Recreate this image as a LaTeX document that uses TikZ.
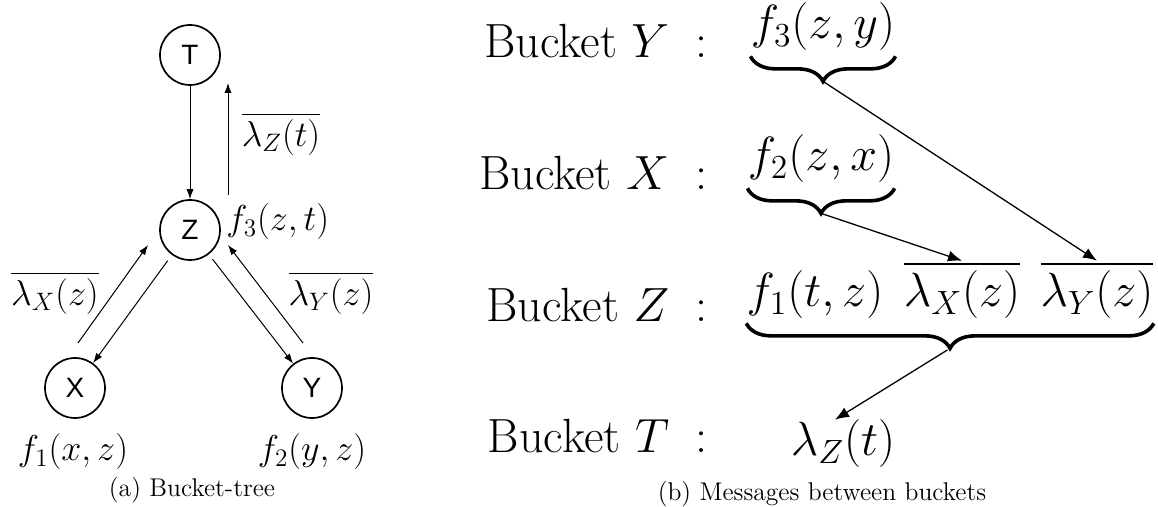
\documentclass[tikz,border=0pt]{standalone}
\usepackage{fix-cm}
\usepackage{amsmath}
\usepackage{fontspec}
\newfontfamily\nodefont{Liberation Sans}
\usepackage{tikz}
\usetikzlibrary{arrows.meta,calc,decorations.pathreplacing}

\begin{document}
\begin{tikzpicture}[
    x=0.5pt,
    y=-0.5pt,
    bnode/.style={
        circle, draw, line width=0.85pt,
        minimum size=30pt, inner sep=0pt,
        font=\nodefont\fontsize{14}{16}\selectfont
    },
    lbl/.style={inner sep=0pt, font=\fontsize{18}{22}\selectfont},
    msg/.style={inner sep=0pt, font=\fontsize{24}{29}\selectfont},
    captxt/.style={inner sep=0pt, font=\fontsize{12.8}{15}\selectfont},
    brc/.style={
        decorate, line width=1.8pt,
        decoration={brace, mirror, amplitude=12.5pt}
    },
    tarr/.style={-{Latex[length=5pt,width=3.6pt]}, line width=0.5pt},
    barr/.style={-{Latex[length=7pt,width=5.5pt]}, line width=0.65pt}
]
    \useasboundingbox (0,0) rectangle (1158,507);

    % Arbre
    \node[bnode] (T) at (190,55) {T};
    \node[bnode] (Z) at (190,230) {Z};
    \node[bnode] (X) at (75,388) {X};
    \node[bnode] (Y) at (312,388) {Y};

    % Funcions i missatges
    \node[lbl, anchor=west] (fzt) at (226,222) {$f_3(z,t)$};
    \node[lbl] (mzt) at (281,134) {$\overline{\lambda_Z(t)}$};
    \node[lbl] (mxz) at (55,293) {$\overline{\lambda_X(z)}$};
    \node[lbl] (myz) at (331,293) {$\overline{\lambda_Y(z)}$};
    \node[lbl] (fxz) at (73,452) {$f_1(x,z)$};
    \node[lbl] (fyz) at (312,452) {$f_2(y,z)$};

    % Extrems lliures
    \coordinate (zt0) at (228,195);
    \coordinate (zt1) at (228,83);
    \coordinate (xz0) at (78,343);
    \coordinate (xz1) at (148,245);
    \coordinate (yz0) at (303,343);
    \coordinate (yz1) at (228,245);

    % Arestes
    \draw[tarr] (T) -- (Z);
    \draw[tarr] (zt0) -- (zt1);
    \draw[tarr, shorten <=3.5pt] (Z) -- (X);
    \draw[tarr, shorten <=3pt] (Z) -- (Y);
    \draw[tarr] (xz0) -- (xz1);
    \draw[tarr] (yz0) -- (yz1);

    % Buckets
    \node[msg, anchor=base east] (bY) at (708,58) {Bucket $Y$\hspace{0.55em}:};
    \node[msg, anchor=base east] (bX) at (708,190) {Bucket $X$\hspace{0.55em}:};
    \node[msg, anchor=base east] (bZ) at (708,322) {Bucket $Z$\hspace{0.55em}:};
    \node[msg, anchor=base east] (bT) at (708,453) {Bucket $T$\hspace{0.55em}:};

    \node[msg, anchor=base] (fY) at (823,39) {$f_3(z,y)$};
    \node[msg, anchor=base] (fX) at (821,171) {$f_2(z,x)$};
    \node[msg, anchor=base] (f1) at (815,307) {$f_1(t,z)$};
    \node[msg, anchor=base] (lX) at (962,307) {$\overline{\lambda_X(z)}$};
    \node[msg, anchor=base] (lY) at (1097,307) {$\overline{\lambda_Y(z)}$};
    \node[msg, anchor=base] (lZ) at (843,456) {$\lambda_Z(t)$};

    % Claus
    \draw[brc] ([yshift=-2.5pt]fY.south west) -- ([yshift=-2.5pt]fY.south east);
    \draw[brc] ([yshift=-2.5pt]fX.south west) -- ([yshift=-2.5pt]fX.south east);
    \draw[brc] ([yshift=-2pt]f1.south west) -- ([yshift=-2pt]lY.south east);

    \coordinate (tY) at ($(fY.south)+(0,30)$);
    \coordinate (tX) at ($(fX.south)+(0,30)$);
    \coordinate (tZ) at ($(f1.south west)!0.5!(lY.south east)+(0,29)$);

    % Missatges
    \draw[barr] (tY) -- (lY.north);
    \draw[barr] (tX) -- (lX.north);
    \draw[barr, shorten <=1.5pt] (tZ) -- ([xshift=-4pt]lZ.north);

    % Peus
    \node[captxt] (capa) at (192,490) {(a) Bucket-tree};
    \node[captxt] (capb) at (822,494) {(b) Messages between buckets};

\end{tikzpicture}
\end{document}
